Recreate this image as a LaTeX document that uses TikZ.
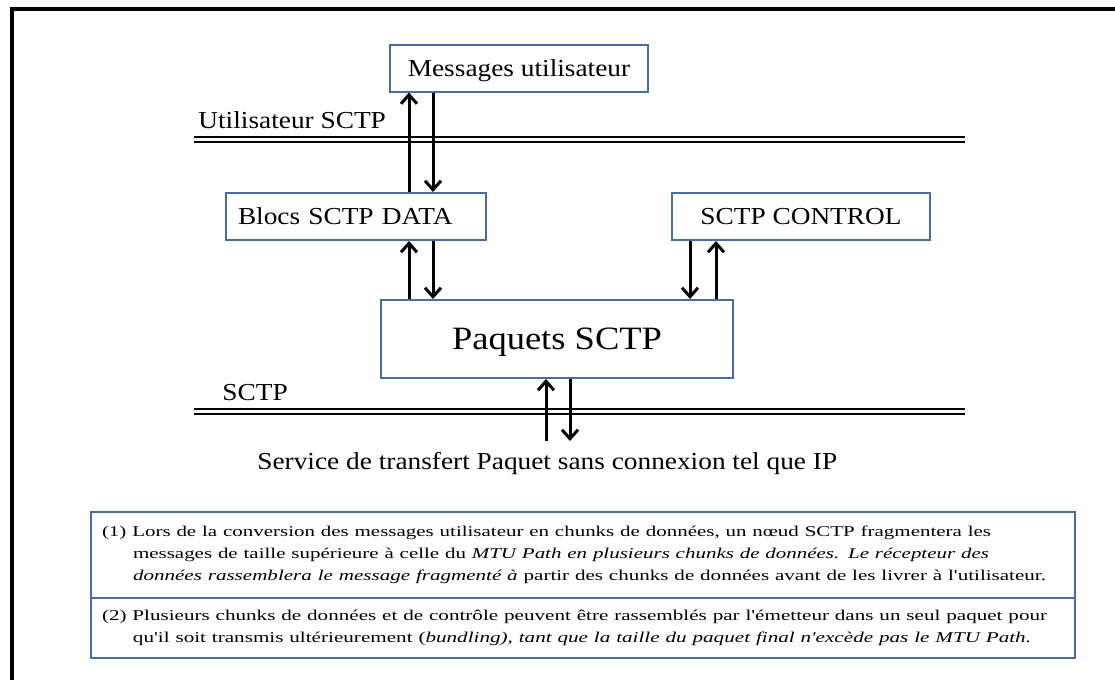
\documentclass[tikz,border=0pt]{standalone}
\usepackage{fontspec}
\setmainfont[FakeStretch=1.12]{Liberation Serif}
\newfontfamily\notefont[FakeStretch=1.2]{Liberation Serif}
\usepackage{graphicx}
\newcommand\noteline[2]{\resizebox{#1}{\height}{#2}}
\usepackage{xcolor}
\usepackage{tikz}
\usetikzlibrary{arrows.meta}
\definecolor{boxcolor}{RGB}{74,108,160}

\begin{document}
\begin{tikzpicture}[
    x=0.5pt, y=-0.5pt,
    box/.style={draw=boxcolor, line width=1pt, minimum height=23.5pt, inner sep=0pt, text depth=0pt, font=\fontsize{12.2}{14}\selectfont},
    lbl/.style={anchor=base west, inner sep=0pt, font=\fontsize{12.2}{14}\selectfont},
    arrow/.style={-{Straight Barb[length=4.5pt, width=8pt]}, line width=1.5pt},
    rail/.style={line width=1pt, double, double distance=1.5pt},
    note/.style={draw=boxcolor, line width=1pt, text width=481pt, inner xsep=5.5pt, inner ysep=0pt, align=left, font=\notefont\fontsize{7.5}{11}\selectfont}
]
    \useasboundingbox (0,0) rectangle (1115,680);
    \draw[line width=2pt] (11.5,680) -- (11.5,9) -- (1115,9);

    \node[box, minimum width=129pt] (msg) at (519,68) {Messages utilisateur};
    \node[box, text width=118pt, inner xsep=6pt, align=left] (blocs) at (356,216.5) {Blocs SCTP DATA};
    \node[box, minimum width=129pt] (ctrl) at (801,216.5) {SCTP CONTROL};
    \node[box, minimum width=176pt, minimum height=39pt, font=\fontsize{16.3}{19}\selectfont] (pqt) at (557,339) {Paquets SCTP};

    \node[lbl] (user) at (198,128) {Utilisateur SCTP};
    \node[lbl] (sctp) at (222,400) {SCTP};
    \node[lbl] (svc) at (257,469) {Service de transfert Paquet sans connexion tel que IP};

    \draw[rail] (194,139.5) -- (965,139.5);
    \draw[rail] (194,411.5) -- (965,411.5);

    \draw[arrow] ([xshift=26.5pt]blocs.north) -- ([xshift=-55pt]msg.south);
    \draw[arrow] ([xshift=-43pt]msg.south) -- ([xshift=38.5pt]blocs.north);
    \draw[arrow] ([xshift=-74pt]pqt.north) -- ([xshift=26.5pt]blocs.south);
    \draw[arrow] ([xshift=38.5pt]blocs.south) -- ([xshift=-62pt]pqt.north);
    \draw[arrow] ([xshift=-55.5pt]ctrl.south) -- ([xshift=66.5pt]pqt.north);
    \draw[arrow] ([xshift=79.5pt]pqt.north) -- ([xshift=-42.5pt]ctrl.south);

    \coordinate (ipup) at (546,441);
    \coordinate (ipdn) at (570,441);
    \draw[arrow] (ipup) -- ([xshift=-5.5pt]pqt.south);
    \draw[arrow] ([xshift=6.5pt]pqt.south) -- (ipdn);

    \node[note, minimum height=43pt] (n1) at (583,555) {%
        \noteline{444.5pt}{(1) Lors de la conversion des messages utilisateur en chunks de données, un nœud SCTP fragmentera les}\\
        \hspace*{15.5pt}\noteline{428pt}{messages de taille supérieure à celle du \textit{MTU Path en plusieurs chunks de données. Le récepteur des}}\\
        \hspace*{15.5pt}\noteline{456.5pt}{\textit{données rassemblera le message fragmenté à} partir des chunks de données avant de les livrer à l'utilisateur.}};
    \node[note, minimum height=30pt] (n2) at (583,628) {%
        \noteline{472.5pt}{(2) Plusieurs chunks de données et de contrôle peuvent être rassemblés par l'émetteur dans un seul paquet pour}\\
        \hspace*{15.5pt}\noteline{449pt}{qu'il soit transmis ultérieurement (\textit{bundling), tant que la taille du paquet final n'excède pas le MTU Path.}}};
\end{tikzpicture}
\end{document}
